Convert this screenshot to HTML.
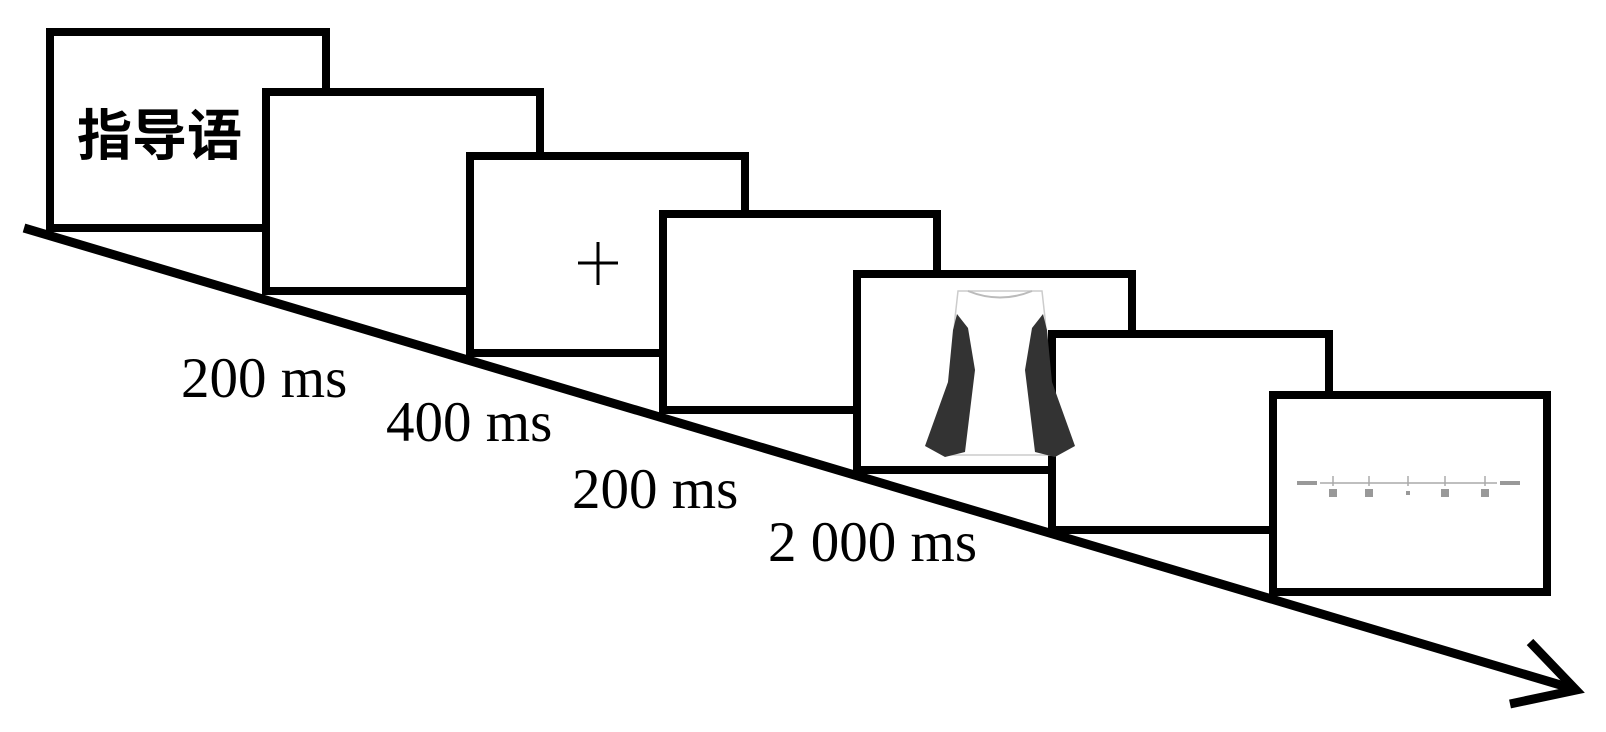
<!DOCTYPE html>
<html><head><meta charset="utf-8"><style>
html,body{margin:0;padding:0;background:#fff;}
svg{display:block;}
</style></head><body>
<svg width="1606" height="732" viewBox="0 0 1606 732" xmlns="http://www.w3.org/2000/svg">
<rect width="1606" height="732" fill="#fff"/>
<line x1="24" y1="228" x2="1574" y2="689" stroke="#000" stroke-width="9"/>
<polyline points="1530,642 1576,690 1510,704" fill="none" stroke="#000" stroke-width="9" stroke-linejoin="miter"/>
<g fill="#fff" stroke="#000" stroke-width="8">
<rect x="50" y="32" width="276" height="196"/>
<rect x="266" y="92" width="274" height="199"/>
<rect x="470" y="156" width="275" height="197"/>
<rect x="663" y="214" width="274" height="196"/>
<rect x="857" y="274" width="275" height="196"/>
<rect x="1052" y="334" width="277" height="196"/>
<rect x="1273" y="395" width="274" height="197"/>
</g>
<text x="77" y="155" font-family="'Liberation Sans','Noto Sans CJK SC',sans-serif" font-weight="bold" font-size="55">指导语</text>
<g stroke="#000" stroke-width="3"><line x1="578" y1="263" x2="618" y2="263"/><line x1="598" y1="242" x2="598" y2="285"/></g>
<g>
<path d="M958,291 L1042,291 L1045,318 L1055,455 L945,455 L955,318 Z" fill="#fff" stroke="#ccc" stroke-width="1.5"/>
<path d="M968,291 Q1000,304 1032,291" fill="none" stroke="#bbb" stroke-width="2"/>
<polygon points="957,314 968,328 975,370 965,452 945,457 925,446 948,382 953,330" fill="#333"/>
<polygon points="1043,314 1032,328 1025,370 1035,452 1055,457 1075,446 1052,382 1047,330" fill="#333"/>
</g>
<g font-family="'Liberation Serif',serif" font-size="57" fill="#000">
<text x="181" y="397">200 ms</text>
<text x="386" y="441">400 ms</text>
<text x="572" y="508">200 ms</text>
<text x="768" y="561">2 000 ms</text>
</g>
<g stroke="#aaa" stroke-width="1.5">
<line x1="1320" y1="483" x2="1497" y2="483"/>
<line x1="1333" y1="476" x2="1333" y2="486"/>
<line x1="1369" y1="476" x2="1369" y2="486"/>
<line x1="1408" y1="476" x2="1408" y2="486"/>
<line x1="1445" y1="476" x2="1445" y2="486"/>
<line x1="1485" y1="476" x2="1485" y2="486"/>
</g>
<g fill="#999">
<rect x="1297" y="481" width="20" height="4"/>
<rect x="1500" y="481" width="20" height="4"/>
<rect x="1329" y="489" width="8" height="8"/>
<rect x="1365" y="489" width="8" height="8"/>
<rect x="1406" y="491" width="4" height="4"/>
<rect x="1441" y="489" width="8" height="8"/>
<rect x="1481" y="489" width="8" height="8"/>
</g>
</svg>
</body></html>
